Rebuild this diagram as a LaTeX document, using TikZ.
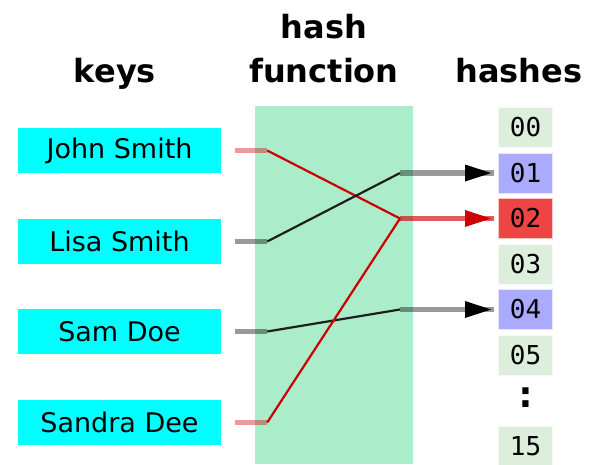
\documentclass[tikz,border=0pt]{standalone}
\usepackage{fontspec}
\setmainfont{DejaVu Sans}
\setmonofont{DejaVu Sans Mono}
\usetikzlibrary{calc}

\definecolor{keycyan}{RGB}{0,255,255}
\definecolor{hashgreen}{RGB}{171,237,203}
\definecolor{slotgreen}{RGB}{221,238,221}
\definecolor{slotblue}{RGB}{170,170,255}
\definecolor{slotred}{RGB}{238,68,68}
\definecolor{linkred}{RGB}{204,0,0}
\definecolor{linkdark}{RGB}{30,30,30}

\begin{document}
\begin{tikzpicture}[x=1pt, y=-1pt,
  heading/.style={font=\bfseries\fontsize{32}{40}\selectfont, anchor=base, inner sep=0pt},
  keybox/.style={fill=keycyan, minimum width=203pt, minimum height=45pt, inner sep=0pt,
                 font=\fontsize{27}{32}\selectfont},
  slot/.style={fill=#1, draw=#1!30!white, line width=1pt, minimum width=54pt, minimum height=40pt,
               inner sep=0pt, font=\ttfamily\fontsize{26}{30}\selectfont},
  slot/.default=slotgreen,
  stub/.style={line width=5.5pt, draw opacity=0.4},
  wire/.style={line width=2.2pt},
]
\useasboundingbox (0,0) rectangle (599,464);

% hash function band
\node[fill=hashgreen, minimum width=158pt, minimum height=358pt, inner sep=0pt, anchor=north west]
  (band) at (255,106) {};

% column headings
\node[heading] (hkeys) at (115,82) {keys};
\node[heading] (hhash) at (324,38) {hash};
\node[heading] (hfunc) at (324,82) {function};
\node[heading] (hhashes) at (519,82) {hashes};

% keys
\node[keybox] (k1) at (119.5,150.5) {John Smith};
\node[keybox] (k2) at (119.5,241.5) {Lisa Smith};
\node[keybox] (k3) at (119.5,331.5) {Sam Doe};
\node[keybox] (k4) at (119.5,422.5) {Sandra Dee};

% hash slots
\node[slot] (h00) at (525.5,127.5) {00};
\node[slot=slotblue] (h01) at (525.5,173) {01};
\node[slot=slotred] (h02) at (525.5,218.5) {02};
\node[slot] (h03) at (525.5,264) {03};
\node[slot=slotblue] (h04) at (525.5,309.5) {04};
\node[slot] (h05) at (525.5,355) {05};
\node[font=\ttfamily\bfseries\fontsize{38}{40}\selectfont, inner sep=0pt] (hdots) at (525.5,398) {:};
\node[slot] (h15) at (525.5,446) {15};

% bend points
\foreach \k in {k1,k2,k3,k4}{
  \coordinate (\k a) at ([xshift=14pt]\k.east);
  \coordinate (\k b) at ([xshift=46pt]\k.east);
}
\foreach \h in {h01,h02,h04}{
  \coordinate (\h m) at ([xshift=-98pt]\h.west);
  \coordinate (\h e) at ([xshift=-4pt]\h.west);
  \coordinate (\h t) at ([xshift=-7pt]\h.west);
}

% John Smith -> 02
\draw[stub, linkred] (k1a) -- (k1b);
\draw[wire, linkred] (k1b) -- (h02m);
\draw[stub, linkred] (h02m) -- (h02e);
% Lisa Smith -> 01
\draw[stub, black] (k2a) -- (k2b);
\draw[wire, linkdark] (k2b) -- (h01m);
\draw[stub, black] (h01m) -- (h01e);
% Sam Doe -> 04
\draw[stub, black] (k3a) -- (k3b);
\draw[wire, linkdark] (k3b) -- (h04m);
\draw[stub, black] (h04m) -- (h04e);
% Sandra Dee -> 02
\draw[stub, linkred] (k4a) -- (k4b);
\draw[wire, linkred] (k4b) -- (h02m);
\draw[stub, linkred] (h02m) -- (h02e);

% arrowheads
\fill[black]   (h01t) -- ++(-26,-8.5) -- ++(0,17) -- cycle;
\fill[linkred] (h02t) -- ++(-26,-8.5) -- ++(0,17) -- cycle;
\fill[black]   (h04t) -- ++(-26,-8.5) -- ++(0,17) -- cycle;
\end{tikzpicture}
\end{document}
